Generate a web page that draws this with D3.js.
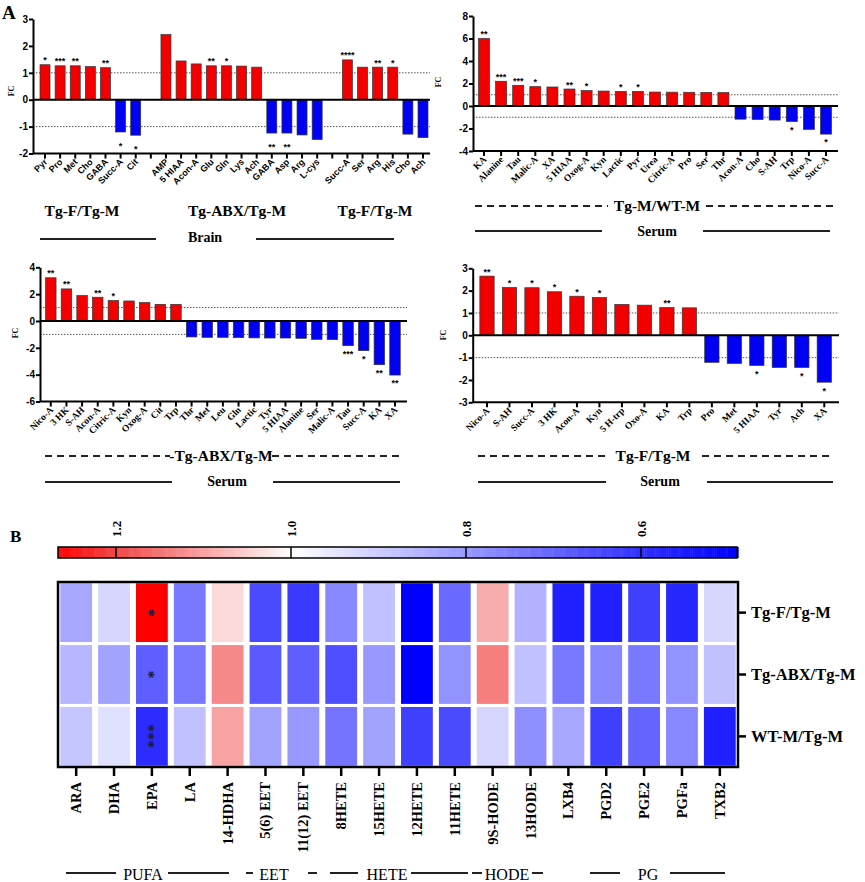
<!DOCTYPE html>
<html><head><meta charset="utf-8">
<script src="https://cdn.jsdelivr.net/npm/d3@7"></script>
<style>body{margin:0;background:#fff}</style>
</head><body><svg id="c" width="865" height="882"></svg>
<script>
// ---------------- DATA ----------------
// Panel A1 (Brain)
const brainCatsF1 = ["Pyr","Pro","Met","Cho","GABA","Succ-A","Cit"];
const brainValsF1 = [1.3,1.26,1.26,1.23,1.19,-1.2,-1.32];
const brainStarsF1 = ["*","***","**","","**","*","*"];
const brainCatsABX = ["AMP","5 HIAA","Acon-A","Glu","Gln","Lys","Ach","GABA","Asp","Arg","L-cys"];
const brainValsABX = [2.42,1.44,1.33,1.26,1.26,1.25,1.21,-1.24,-1.24,-1.31,-1.48];
const brainStarsABX = ["","","","**","*","","","**","**","",""];
const brainCatsF2 = ["Succ-A","Ser","Arg","His","Cho","Ach"];
const brainValsF2 = [1.48,1.21,1.21,1.21,-1.28,-1.41];
const brainStarsF2 = ["****","","**","*","",""];
// Panel A2 (Serum Tg-M/WT-M)
const serumMCats = ["KA","Alanine","Tau","Malic-A","XA","5 HIAA","Oxog-A","Kyn","Lactic","Pyr","Urea","Citric-A","Pro","Ser","Thr","Acon-A","Cho","S-AH","Trp","Nico-A","Succ-A"];
const serumMVals = [6.0,2.2,1.84,1.72,1.69,1.51,1.37,1.33,1.3,1.3,1.24,1.23,1.22,1.21,1.2,-1.17,-1.2,-1.25,-1.38,-2.08,-2.5];
const serumMStars = ["**","***","***","*","","**","*","","*","*","","","","","","","","","*","","*"];
// Panel A3 (Serum Tg-ABX/Tg-M)
const serumABXCats = ["Nico-A","3 HK","S-AH","Acon-A","Citric-A","Kyn","Oxog-A","Cit","Trp","Thr","Met","Leu","Gln","Lactic","Tyr","5 HIAA","Alanine","Ser","Malic-A","Tau","Succ-A","KA","XA"];
const serumABXVals = [3.22,2.39,1.89,1.77,1.52,1.49,1.37,1.24,1.24,-1.19,-1.22,-1.22,-1.24,-1.26,-1.27,-1.27,-1.29,-1.37,-1.39,-1.84,-2.21,-3.26,-4.03];
const serumABXStars = ["**","**","","**","*","","","","","","","","","","","","","","","***","*","**","**"];
// Panel A4 (Serum Tg-F/Tg-M)
const serumFCats = ["Nico-A","S-AH","Succ-A","3 HK","Acon-A","Kyn","5 H-trp","Oxo-A","KA","Trp","Pro","Met","5 HIAA","Tyr","Ach","XA"];
const serumFVals = [2.65,2.14,2.13,1.95,1.75,1.69,1.38,1.35,1.24,1.23,-1.21,-1.26,-1.35,-1.44,-1.44,-2.1];
const serumFStars = ["**","*","*","*","*","*","","","**","","","","*","","*","*"];
// Panel B heatmap
const heatCols = ["ARA","DHA","EPA","LA","14-HDHA","5(6) EET","11(12) EET","8HETE","15HETE","12HETE","11HETE","9S-HODE","13HODE","LXB4","PGD2","PGE2","PGFa","TXB2"];
const heatRows = ["Tg-F/Tg-M","Tg-ABX/Tg-M","WT-M/Tg-M"];
const heatTgF   = [0.83,0.92,1.27,0.74,1.04,0.65,0.62,0.77,0.88,0.49,0.71,1.09,0.85,0.56,0.56,0.63,0.58,0.92];
const heatTgABX = [0.86,0.82,0.69,0.74,1.13,0.68,0.69,0.66,0.80,0.49,0.79,1.14,0.88,0.74,0.77,0.74,0.79,0.88];
const heatWT    = [0.89,0.94,0.59,0.88,1.10,0.82,0.80,0.73,0.82,0.63,0.65,0.92,0.78,0.83,0.63,0.70,0.77,0.56];
const heatStarCol = "EPA";
const heatStars = ["*","*","***"];
const cbTicks = [1.2,1.0,0.8,0.6];
const heatGroups = ["PUFA","EET","HETE","HODE","PG"];

// ---------------- DRAW ----------------
const svg = d3.select("#c");
const SANS = "'Liberation Sans', Arial, sans-serif";
const SERIF = "'Liberation Serif', 'Times New Roman', serif";

function makeSlots(groups){
  const slots=[];
  groups.forEach((gr,gi)=>{
    if(gi>0) slots.push(null);
    gr.cats.forEach((c,k)=>slots.push({cat:c,v:gr.vals[k],s:gr.stars[k]}));
  });
  return slots;
}

function panel(cfg){
  const g = svg.append("g");
  const n = cfg.slots.length;
  const x = d3.scalePoint().domain(d3.range(n)).range(cfg.xr);
  const y = d3.scaleLinear().domain(cfg.yd).range(cfg.yr);
  const yb = y(cfg.yd[0]);
  g.selectAll("line.ref").data([1,-1]).join("line")
    .attr("x1",cfg.ax0).attr("x2",cfg.ax1).attr("y1",d=>y(d)).attr("y2",d=>y(d))
    .attr("stroke","#555").attr("stroke-width",1).attr("stroke-dasharray","1.5,1.5");
  const bars = cfg.slots.map((s,i)=>s?Object.assign({i},s):null).filter(Boolean);
  g.selectAll("rect.bar").data(bars).join("rect")
    .attr("x",d=>x(d.i)-cfg.bw/2).attr("width",cfg.bw)
    .attr("y",d=>y(Math.max(0,d.v))).attr("height",d=>Math.abs(y(d.v)-y(0)))
    .attr("fill",d=>d.v>0?"#f20000":"#0000f2").attr("stroke","#333").attr("stroke-width",0.7);
  g.append("line").attr("x1",cfg.ax0).attr("x2",cfg.ax1).attr("y1",y(0)).attr("y2",y(0))
    .attr("stroke","#000").attr("stroke-width",2);
  const ax = g.append("g").attr("transform",`translate(${cfg.ax0},0)`)
    .call(d3.axisLeft(y).tickValues(cfg.ticks).tickSize(4).tickSizeOuter(0).tickFormat(d=>String(d)));
  ax.select(".domain").attr("stroke-width",2);
  ax.selectAll(".tick line").attr("stroke-width",2);
  ax.selectAll(".tick text").attr("font-family",SANS).attr("font-weight","bold").attr("font-size",10).attr("x",-5).attr("fill","#000");
  g.append("line").attr("x1",cfg.ax0).attr("x2",cfg.ax1).attr("y1",yb).attr("y2",yb)
    .attr("stroke","#000").attr("stroke-width",2);
  g.selectAll("line.xt").data(d3.range(n)).join("line")
    .attr("x1",i=>x(i)).attr("x2",i=>x(i)).attr("y1",yb).attr("y2",yb+5)
    .attr("stroke","#000").attr("stroke-width",2);
  g.selectAll("text.xl").data(bars).join("text")
    .attr("transform",d=>`translate(${x(d.i)+3},${yb+9}) rotate(-45)`)
    .attr("text-anchor","end").attr("font-family",cfg.lf).attr("font-weight","bold")
    .attr("font-size",cfg.lfs).text(d=>d.cat);
  g.selectAll("text.st").data(bars.filter(d=>d.s)).join("text")
    .attr("x",d=>x(d.i)).attr("y",d=>d.v>0?y(d.v)-1.5:y(d.v)+cfg.negOff+5)
    .attr("text-anchor","middle").attr("font-family",SANS).attr("font-weight","bold")
    .attr("font-size",9).text(d=>d.s);
  g.append("text").attr("transform",`translate(${cfg.fc[0]},${cfg.fc[1]}) rotate(-90)`)
    .attr("text-anchor","middle").attr("dy","0.35em").attr("font-family",SERIF).attr("font-weight","bold")
    .attr("font-size",8).text("FC");
}

panel({slots:makeSlots([{cats:brainCatsF1,vals:brainValsF1,stars:brainStarsF1},{cats:brainCatsABX,vals:brainValsABX,stars:brainStarsABX},{cats:brainCatsF2,vals:brainValsF2,stars:brainStarsF2}]),
  ax0:33,ax1:430,xr:[45,423],yd:[-2,3],yr:[153.5,19],ticks:[-2,-1,0,1,2,3],bw:10,lf:SANS,lfs:9,negOff:12,fc:[11.5,91]});
panel({slots:makeSlots([{cats:serumMCats,vals:serumMVals,stars:serumMStars}]),
  ax0:473,ax1:838,xr:[484,826],yd:[-4,8],yr:[151,16],ticks:[-4,-2,0,2,4,6,8],bw:11,lf:SERIF,lfs:9.5,negOff:6,fc:[438,82]});
panel({slots:makeSlots([{cats:serumABXCats,vals:serumABXVals,stars:serumABXStars}]),
  ax0:40,ax1:407,xr:[50.8,395],yd:[-6,4],yr:[401.5,267.3],ticks:[-6,-4,-2,0,2,4],bw:10.5,lf:SERIF,lfs:9.5,negOff:6,fc:[15,333]});
panel({slots:makeSlots([{cats:serumFCats,vals:serumFVals,stars:serumFStars}]),
  ax0:472.7,ax1:839,xr:[487,824.3],yd:[-3,3],yr:[402.3,268.3],ticks:[-3,-2,-1,0,1,2,3],bw:14.3,lf:SERIF,lfs:9.5,negOff:7,fc:[443,335]});

// group annotations for panel A
function txt(x,y,t,fs,w){
  svg.append("text").attr("x",x).attr("y",y).attr("text-anchor","middle")
    .attr("font-family",SERIF).attr("font-weight",w||"bold").attr("font-size",fs).text(t);
}
function seg(x1,x2,y,dash){
  svg.append("line").attr("x1",x1).attr("x2",x2).attr("y1",y).attr("y2",y)
    .attr("stroke","#222").attr("stroke-width",2).attr("stroke-dasharray",dash?"7,5":null);
}
txt(82,216,"Tg-F/Tg-M",15.5); txt(237,216,"Tg-ABX/Tg-M",15.5); txt(375,216,"Tg-F/Tg-M",15.5);
txt(205,242,"Brain",14); seg(40,156,239); seg(256,394,239);
txt(657,211,"Tg-M/WT-M",15.5); seg(475,608,206,true); seg(706,838,206,true);
txt(657,236,"Serum",14); seg(475,602,231); seg(703,830,231);
txt(221,461,"-Tg-ABX/Tg-M",15.5); seg(45,170,456,true); seg(272,400,456,true);
txt(227,486,"Serum",14); seg(45,172,482); seg(273,400,482);
txt(653,461,"Tg-F/Tg-M",15.5); seg(478,606,456,true); seg(702,833,456,true);
txt(660,486,"Serum",14); seg(478,606,482); seg(707,833,482);
svg.append("text").attr("x",2).attr("y",19).attr("font-family",SERIF).attr("font-weight","bold").attr("font-size",19).text("A");
svg.append("text").attr("x",10).attr("y",542).attr("font-family",SERIF).attr("font-weight","bold").attr("font-size",17).text("B");

// ---------------- HEATMAP ----------------
const heatColor = d3.scaleLinear()
  .domain([0.49,0.6,0.8,1.0,1.2,1.27])
  .range(["#0000ff","#3030ff","#9898ff","#ffffff","#f04848","#ff0000"]).clamp(true);

// colorbar
const cbx = d3.scaleLinear().domain([1.2,0.6]).range([116,641]);
const cbVals = d3.range(cbx.invert(58), cbx.invert(737), -0.0025);
svg.append("g").selectAll("rect").data(cbVals).join("rect")
  .attr("x",d=>cbx(d)).attr("y",547).attr("width",2.6).attr("height",11)
  .attr("fill",d=>heatColor(d));
svg.append("rect").attr("x",58).attr("y",547).attr("width",679).attr("height",11)
  .attr("fill","none").attr("stroke","#000").attr("stroke-width",1.5);
svg.selectAll("line.cbt").data(cbTicks).join("line")
  .attr("x1",d=>cbx(d)).attr("x2",d=>cbx(d)).attr("y1",547).attr("y2",558)
  .attr("stroke","#000").attr("stroke-width",1.5);
svg.selectAll("text.cbl").data(cbTicks).join("text")
  .attr("transform",d=>`translate(${cbx(d)+5},537) rotate(-90)`)
  .attr("font-family",SERIF).attr("font-weight","bold").attr("font-size",13)
  .text(d=>d.toFixed(1));

const hx = d3.scaleBand().domain(heatCols).range([58,738]).paddingInner(0.16).paddingOuter(0.06);
const hy = d3.scaleBand().domain(heatRows).range([582,767]).paddingInner(0.05).paddingOuter(0.02);
const heatMatrix = [heatTgF, heatTgABX, heatWT];
const cells = [];
heatRows.forEach((r,ri)=>heatCols.forEach((c,ci)=>cells.push({r,c,v:heatMatrix[ri][ci]})));
svg.append("g").selectAll("rect").data(cells).join("rect")
  .attr("x",d=>hx(d.c)).attr("y",d=>hy(d.r)).attr("width",hx.bandwidth()).attr("height",hy.bandwidth())
  .attr("fill",d=>heatColor(d.v));
svg.append("rect").attr("x",58).attr("y",582).attr("width",680).attr("height",185)
  .attr("fill","none").attr("stroke","#000").attr("stroke-width",2.5);
// stars
svg.selectAll("text.hs").data(heatRows).join("text")
  .attr("transform",(r,i)=>`translate(${hx(heatStarCol)+hx.bandwidth()/2+7.5},${hy(r)+hy.bandwidth()/2}) rotate(-90)`)
  .attr("text-anchor","middle").attr("font-family",SERIF).attr("font-weight","bold").attr("font-size",16)
  .attr("fill","#1a1a3a").text((r,i)=>heatStars[i]);
// row axis
svg.selectAll("line.rt").data(heatRows).join("line")
  .attr("x1",738).attr("x2",746).attr("y1",r=>hy(r)+hy.bandwidth()/2).attr("y2",r=>hy(r)+hy.bandwidth()/2)
  .attr("stroke","#000").attr("stroke-width",2.5);
svg.selectAll("text.rl").data(heatRows).join("text")
  .attr("x",751).attr("y",r=>hy(r)+hy.bandwidth()/2).attr("dy","0.35em")
  .attr("font-family",SERIF).attr("font-weight","bold").attr("font-size",16.5).text(r=>r);
// column axis
svg.selectAll("line.ct").data(heatCols).join("line")
  .attr("x1",c=>hx(c)+hx.bandwidth()/2).attr("x2",c=>hx(c)+hx.bandwidth()/2).attr("y1",767).attr("y2",776)
  .attr("stroke","#000").attr("stroke-width",2.5);
svg.selectAll("text.cl").data(heatCols).join("text")
  .attr("transform",c=>`translate(${hx(c)+hx.bandwidth()/2+5},782) rotate(-90)`)
  .attr("text-anchor","end").attr("font-family",SERIF).attr("font-weight","bold").attr("font-size",14.5).text(c=>c);
// group labels
const gLab = [[143,"PUFA"],[274,"EET"],[387,"HETE"],[507,"HODE"],[648,"PG"]];
gLab.forEach((d,i)=>txt(d[0],880,heatGroups[i],16,"normal"));
[[66,116],[168,229],[246,253],[308,317],[330,358],[411,468],[472,482],[532,543],[590,620],[670,725]]
  .forEach(s=>seg(s[0],s[1],873));
</script></body></html>
